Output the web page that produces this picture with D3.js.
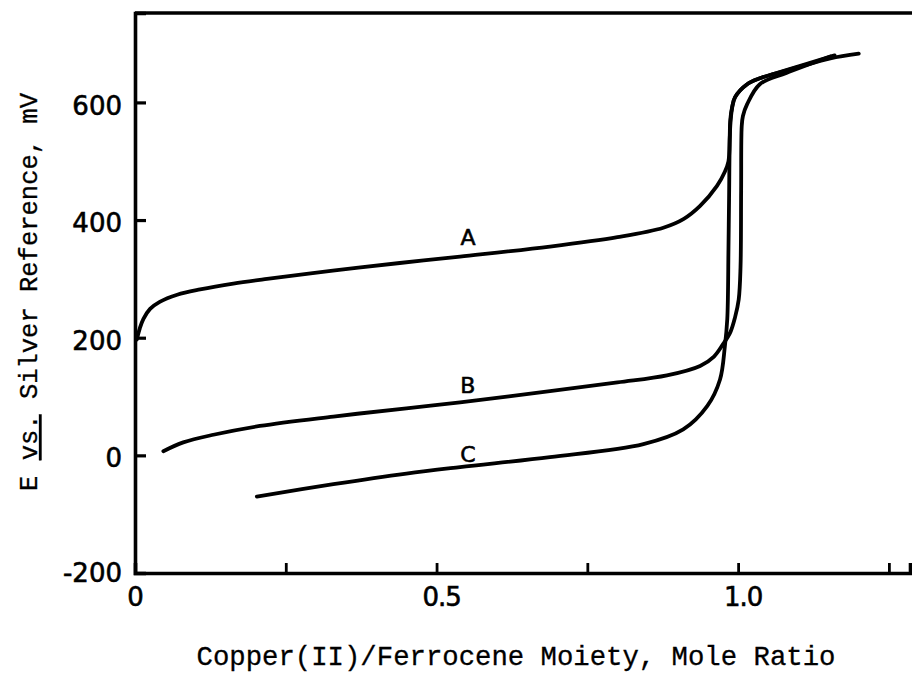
<!DOCTYPE html>
<html>
<head>
<meta charset="utf-8">
<script src="https://cdn.jsdelivr.net/npm/d3@7/dist/d3.min.js"></script>
<style>
  html, body { margin: 0; padding: 0; background: #fff; }
  svg { display: block; }
</style>
</head>
<body>
<svg id="chart" width="912" height="678"></svg>
<script>
// ---- data ----
const curveA_x = [0.003, 0.008, 0.014, 0.025, 0.041, 0.07, 0.108, 0.163, 0.219, 0.328, 0.439, 0.539, 0.688, 0.80, 0.876, 0.91, 0.937, 0.965, 0.978, 0.984, 0.986, 0.987, 0.990, 0.995, 1.015, 1.036, 1.10, 1.153, 1.20];
const curveA_y = [197, 216, 232, 249, 261, 273, 282, 292, 300, 314, 327, 338, 355, 371, 387, 402, 424, 458, 482, 500, 540, 570, 592, 609, 631, 641, 660, 675, 683];

const curveB_x = [0.047, 0.08, 0.13, 0.207, 0.329, 0.45, 0.539, 0.688, 0.80, 0.882, 0.937, 0.96, 0.975, 0.987, 0.995, 1.001, 1.004, 1.005, 1.006, 1.008, 1.015, 1.036, 1.08, 1.153];
const curveB_y = [7, 22, 35, 50, 66, 80, 90, 109, 124, 136, 152, 168, 189, 209, 235, 265, 320, 450, 560, 577, 597, 631, 650, 678];

const curveC_x = [0.202, 0.329, 0.45, 0.539, 0.688, 0.843, 0.909, 0.949, 0.970, 0.978, 0.982, 0.984, 0.985, 0.987, 0.990, 0.995, 1.015, 1.036, 1.08, 1.16];
const curveC_y = [-70, -49, -31, -20, -3, 19, 44, 84, 129, 185, 231, 350, 436, 560, 590, 609, 631, 641, 655, 680];

const curveNames = ["A", "B", "C"];
const labelX = [0.552, 0.552, 0.552];
const labelY = [358, 106, -11];

const xTicks = [0.25, 0.5, 0.75, 1.0, 1.25];
const xTickLabels = [{v: 0, t: "0"}, {v: 0.5, t: "0.5"}, {v: 1.0, t: "1.0"}];
const yTicks = [0, 200, 400, 600];
const yTickLabels = [-200, 0, 200, 400, 600];

const xTitle = "Copper(II)/Ferrocene Moiety, Mole Ratio";

// ---- chart ----
const svg = d3.select("#chart");
const x = d3.scaleLinear().domain([0, 1.285]).range([135, 910]);
const y = d3.scaleLinear().domain([-200, 752]).range([573, 13]);

const series = [
  curveA_x.map((v, i) => [v, curveA_y[i]]),
  curveB_x.map((v, i) => [v, curveB_y[i]]),
  curveC_x.map((v, i) => [v, curveC_y[i]])
];

const line = d3.line()
  .x(d => x(d[0]))
  .y(d => y(d[1]))
  .curve(d3.curveCatmullRom.alpha(0.5));

svg.append("g").selectAll("path")
  .data(series)
  .join("path")
  .attr("d", line)
  .attr("fill", "none")
  .attr("stroke", "#000")
  .attr("stroke-width", 3.8)
  .attr("stroke-linecap", "round")
  .attr("stroke-linejoin", "round");

// frame: top border, left axis, bottom axis
svg.append("line")
  .attr("x1", x(0)).attr("x2", 912)
  .attr("y1", y(752)).attr("y2", y(752))
  .attr("stroke", "#000").attr("stroke-width", 3.6);

const yAxis = d3.axisLeft(y).tickValues(yTicks).tickSize(-11).tickFormat("");
const gy = svg.append("g").attr("transform", `translate(${x(0)},0)`).call(yAxis);
gy.select(".domain").attr("stroke", "#000").attr("stroke-width", 3.6);
gy.selectAll(".tick line").attr("stroke", "#000").attr("stroke-width", 3.2);

const xAxis = d3.axisBottom(x).tickValues(xTicks).tickSize(-10).tickFormat("");
const gx = svg.append("g").attr("transform", `translate(0,${y(-200)})`).call(xAxis);
gx.select(".domain").attr("stroke", "#000").attr("stroke-width", 3.6);
gx.selectAll(".tick line").attr("stroke", "#000").attr("stroke-width", 2.8);

// tick labels
svg.append("g").selectAll("text")
  .data(yTickLabels)
  .join("text")
  .attr("x", 122)
  .attr("y", d => y(d) + (d === -200 ? 0 : 3))
  .attr("dy", "0.35em")
  .attr("text-anchor", "end")
  .attr("font-family", "DejaVu Sans, sans-serif")
  .attr("font-size", 26)
  .attr("stroke", "#000")
  .attr("stroke-width", 0.6)
  .text(d => d);

svg.append("g").selectAll("text")
  .data(xTickLabels)
  .join("text")
  .attr("x", d => x(d.v) + (d.v === 0 ? 0 : 5))
  .attr("y", 606)
  .attr("text-anchor", "middle")
  .attr("font-family", "DejaVu Sans, sans-serif")
  .attr("font-size", 26)
  .attr("letter-spacing", "-1")
  .attr("stroke", "#000")
  .attr("stroke-width", 0.6)
  .text(d => d.t);

// curve labels
svg.append("g").selectAll("text")
  .data(curveNames)
  .join("text")
  .attr("x", (d, i) => x(labelX[i]))
  .attr("y", (d, i) => y(labelY[i]))
  .attr("text-anchor", "middle")
  .attr("font-family", "DejaVu Sans, sans-serif")
  .attr("font-size", 22)
  .attr("stroke", "#000")
  .attr("stroke-width", 0.6)
  .text(d => d);

// axis titles
svg.append("text")
  .attr("x", 516)
  .attr("y", 665)
  .attr("text-anchor", "middle")
  .attr("font-family", "Liberation Mono, DejaVu Sans Mono, monospace")
  .attr("font-size", 27.3)
  .attr("stroke", "#000")
  .attr("stroke-width", 0.3)
  .text(xTitle);

const yt = svg.append("text")
  .attr("transform", "translate(37,292) rotate(-90)")
  .attr("text-anchor", "middle")
  .attr("font-family", "Liberation Mono, DejaVu Sans Mono, monospace")
  .attr("font-size", 25.5)
  .attr("stroke", "#000")
  .attr("stroke-width", 0.3);
yt.append("tspan").text("E ");
yt.append("tspan").attr("text-decoration", "underline").text("vs.");
yt.append("tspan").text(" Silver Reference, mV");
</script>
</body>
</html>
